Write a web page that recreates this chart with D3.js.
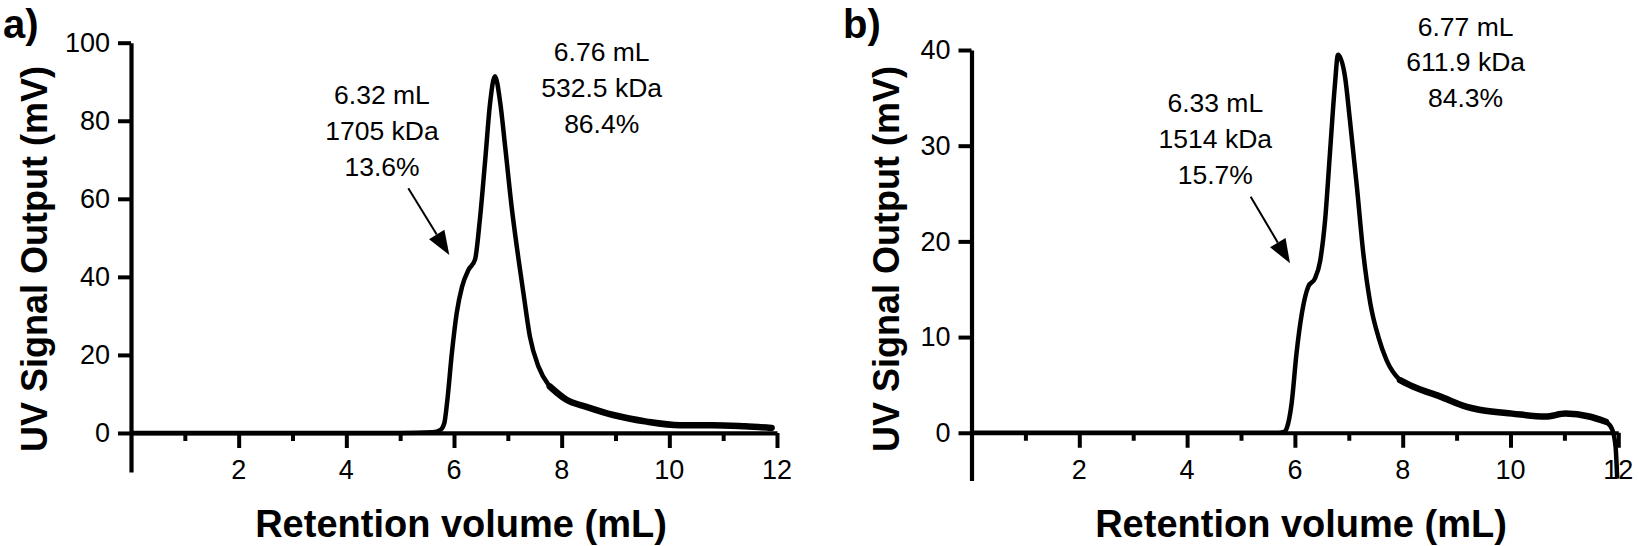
<!DOCTYPE html>
<html>
<head>
<meta charset="utf-8">
<script src="https://cdn.jsdelivr.net/npm/d3@7"></script>
<style>
  html, body { margin: 0; padding: 0; background: #fff; }
  svg { display: block; font-family: "Liberation Sans", Arial, sans-serif; }
</style>
</head>
<body>
<svg id="chart" width="1639" height="546"></svg>
<script>
// ---------------- DATA ----------------
const volumeA = [0, 1, 2, 3, 4, 5, 5.6, 5.75, 5.82, 5.87, 5.96, 6.05, 6.15, 6.27, 6.39, 6.48, 6.58, 6.67, 6.76, 6.86, 6.95, 7.07, 7.2, 7.29, 7.41, 7.57, 7.78, 8.09, 8.46, 8.96, 9.58, 10.2, 10.8, 11.4, 11.9];
const signalA = [0, 0, 0, 0, 0, 0, 0.2, 0.8, 2.5, 7.6, 20.4, 30.7, 37.5, 41.8, 44.4, 54.6, 70, 84.5, 91.4, 84.5, 73.4, 58, 44.4, 35.8, 24.7, 17, 11.9, 8.5, 6.7, 4.6, 2.9, 2.0, 2.0, 1.7, 1.3];

const volumeB = [0, 1, 2, 3, 4, 5, 5.7, 5.8, 5.85, 5.94, 6.03, 6.13, 6.25, 6.37, 6.47, 6.56, 6.65, 6.74, 6.8, 6.93, 7.02, 7.15, 7.27, 7.4, 7.55, 7.7, 7.95, 8.2, 8.69, 9.19, 9.42, 10.03, 10.65, 11.02, 11.46, 11.77, 11.89, 11.95, 11.98];
const signalB = [0, 0, 0, 0, 0, 0, 0, 0.1, 0.5, 3.1, 8.3, 12.5, 15.3, 16.1, 18, 22.2, 29.2, 36.2, 39.5, 37.2, 32.7, 25.7, 18.7, 13.5, 10, 7.6, 5.5, 4.8, 3.8, 2.7, 2.4, 2.0, 1.7, 2.0, 1.7, 1.15, 0.3, -1.5, -4.8];

const xMajorTicks = [2, 4, 6, 8, 10, 12];
const xMinorTicks = [1, 3, 5, 7, 9, 11];
const yTicksA = [0, 20, 40, 60, 80, 100];
const yTicksB = [0, 10, 20, 30, 40];

const panelLabels = ["a)", "b)"];
const xTitle = "Retention volume (mL)";
const yTitle = "UV Signal Output (mV)";

const mainNoteA = ["6.76 mL", "532.5 kDa", "86.4%"];
const shoulderNoteA = ["6.32 mL", "1705 kDa", "13.6%"];
const mainNoteB = ["6.77 mL", "611.9 kDa", "84.3%"];
const shoulderNoteB = ["6.33 mL", "1514 kDa", "15.7%"];

// ---------------- LAYOUT ----------------
const FONT = "'Liberation Sans', Arial, sans-serif";
const panels = [
  {
    label: panelLabels[0], labelX: 3, labelY: 38,
    x: d3.scaleLinear().domain([0, 12]).range([131, 777]),
    y: d3.scaleLinear().domain([-10, 100]).range([472, 42.7]),
    yTicks: yTicksA, vol: volumeA, sig: signalA,
    tailRange: [7.7, 11.95],
    yTitleX: 47, xTitleX: 461,
    notes: [
      { lines: mainNoteA, cx: 601.7, base: 61 },
      { lines: shoulderNoteA, cx: 382, base: 104 }
    ],
    arrow: { x1: 408.3, y1: 188.3, x2: 449.3, y2: 255 }
  },
  {
    label: panelLabels[1], labelX: 843, labelY: 38,
    x: d3.scaleLinear().domain([0, 12]).range([971.5, 1618.3]),
    y: d3.scaleLinear().domain([-5, 40]).range([480.6, 50]),
    yTicks: yTicksB, vol: volumeB, sig: signalB,
    tailRange: [7.9, 11.8],
    yTitleX: 899, xTitleX: 1301,
    notes: [
      { lines: mainNoteB, cx: 1465.6, base: 35.5 },
      { lines: shoulderNoteB, cx: 1215.3, base: 112 }
    ],
    arrow: { x1: 1250.7, y1: 196.7, x2: 1290, y2: 263.3 }
  }
];

const svg = d3.select("#chart");
const lineSpacing = 35.8;

panels.forEach(p => {
  const g = svg.append("g");
  const y0 = p.y(0);

  // curve
  const line = d3.line()
    .x((d, i) => p.x(p.vol[i]))
    .y((d, i) => p.y(p.sig[i]))
    .curve(d3.curveMonotoneX);
  g.append("path")
    .datum(p.vol)
    .attr("d", line)
    .attr("fill", "none")
    .attr("stroke", "#000")
    .attr("stroke-width", 4.5)
    .attr("stroke-linejoin", "round");
  // noisy tail drawn as a thicker band
  const tailLine = d3.line()
    .defined((d, i) => p.vol[i] >= p.tailRange[0] && p.vol[i] <= p.tailRange[1])
    .x((d, i) => p.x(p.vol[i]))
    .y((d, i) => p.y(p.sig[i]))
    .curve(d3.curveMonotoneX);
  g.append("path")
    .datum(p.vol)
    .attr("d", tailLine)
    .attr("fill", "none")
    .attr("stroke", "#000")
    .attr("stroke-width", 6.5)
    .attr("stroke-linecap", "round")
    .attr("stroke-linejoin", "round");

  // x axis minor ticks
  const xMinor = d3.axisBottom(p.x).tickValues(xMinorTicks).tickSize(8).tickFormat("");
  const gxm = g.append("g").attr("transform", `translate(0,${y0})`).call(xMinor);
  gxm.select(".domain").remove();
  gxm.selectAll(".tick text").remove();
  gxm.selectAll(".tick line").attr("stroke", "#000").attr("stroke-width", 4);

  // x axis major (ticks + domain), labels placed below
  const xMajor = d3.axisBottom(p.x).tickValues(xMajorTicks).tickSize(15).tickSizeOuter(0).tickFormat("");
  const gx = g.append("g").attr("transform", `translate(0,${y0})`).call(xMajor);
  gx.select(".domain").attr("stroke", "#000").attr("stroke-width", 4.2);
  gx.selectAll(".tick line").attr("stroke", "#000").attr("stroke-width", 4);
  gx.selectAll(".tick text").remove();
  g.append("g").selectAll("text")
    .data(xMajorTicks)
    .join("text")
    .attr("x", d => p.x(d))
    .attr("y", y0 + 46)
    .attr("text-anchor", "middle")
    .attr("font-size", 27)
    .attr("font-family", FONT)
    .attr("fill", "#000")
    .text(d => d3.format("d")(d));

  // y axis
  const yAxis = d3.axisLeft(p.y).tickValues(p.yTicks).tickSize(13).tickSizeOuter(0).tickPadding(8).tickFormat(d3.format("d"));
  const gy = g.append("g").attr("transform", `translate(${p.x(0)},0)`).call(yAxis);
  gy.select(".domain").attr("stroke", "#000").attr("stroke-width", 4.2);
  gy.selectAll(".tick line").attr("stroke", "#000").attr("stroke-width", 4);
  gy.selectAll(".tick text").attr("fill", "#000").attr("font-size", 27)
    .attr("font-family", FONT);

  // axis titles
  g.append("text")
    .attr("x", p.xTitleX).attr("y", 537)
    .attr("text-anchor", "middle")
    .attr("font-size", 38).attr("font-weight", "bold")
    .text(xTitle);
  g.append("text")
    .attr("transform", `translate(${p.yTitleX},259) rotate(-90)`)
    .attr("text-anchor", "middle")
    .attr("font-size", 36).attr("font-weight", "bold")
    .text(yTitle);

  // panel label
  g.append("text")
    .attr("x", p.labelX).attr("y", p.labelY)
    .attr("font-size", 40).attr("font-weight", "bold")
    .text(p.label);

  // annotations
  p.notes.forEach(n => {
    n.lines.forEach((t, i) => {
      g.append("text")
        .attr("x", n.cx).attr("y", n.base + i * lineSpacing)
        .attr("text-anchor", "middle")
        .attr("font-size", 26.5)
        .text(t);
    });
  });

  // arrow
  const a = p.arrow;
  const ang = Math.atan2(a.y2 - a.y1, a.x2 - a.x1);
  const headLen = 24, headHalf = 9;
  const bx = a.x2 - headLen * Math.cos(ang), by = a.y2 - headLen * Math.sin(ang);
  g.append("line")
    .attr("x1", a.x1).attr("y1", a.y1).attr("x2", bx).attr("y2", by)
    .attr("stroke", "#000").attr("stroke-width", 2);
  const px = -Math.sin(ang), py = Math.cos(ang);
  g.append("path")
    .attr("d", `M${a.x2},${a.y2}L${bx + headHalf * px},${by + headHalf * py}L${bx - headHalf * px},${by - headHalf * py}Z`)
    .attr("fill", "#000");
});
</script>
</body>
</html>
